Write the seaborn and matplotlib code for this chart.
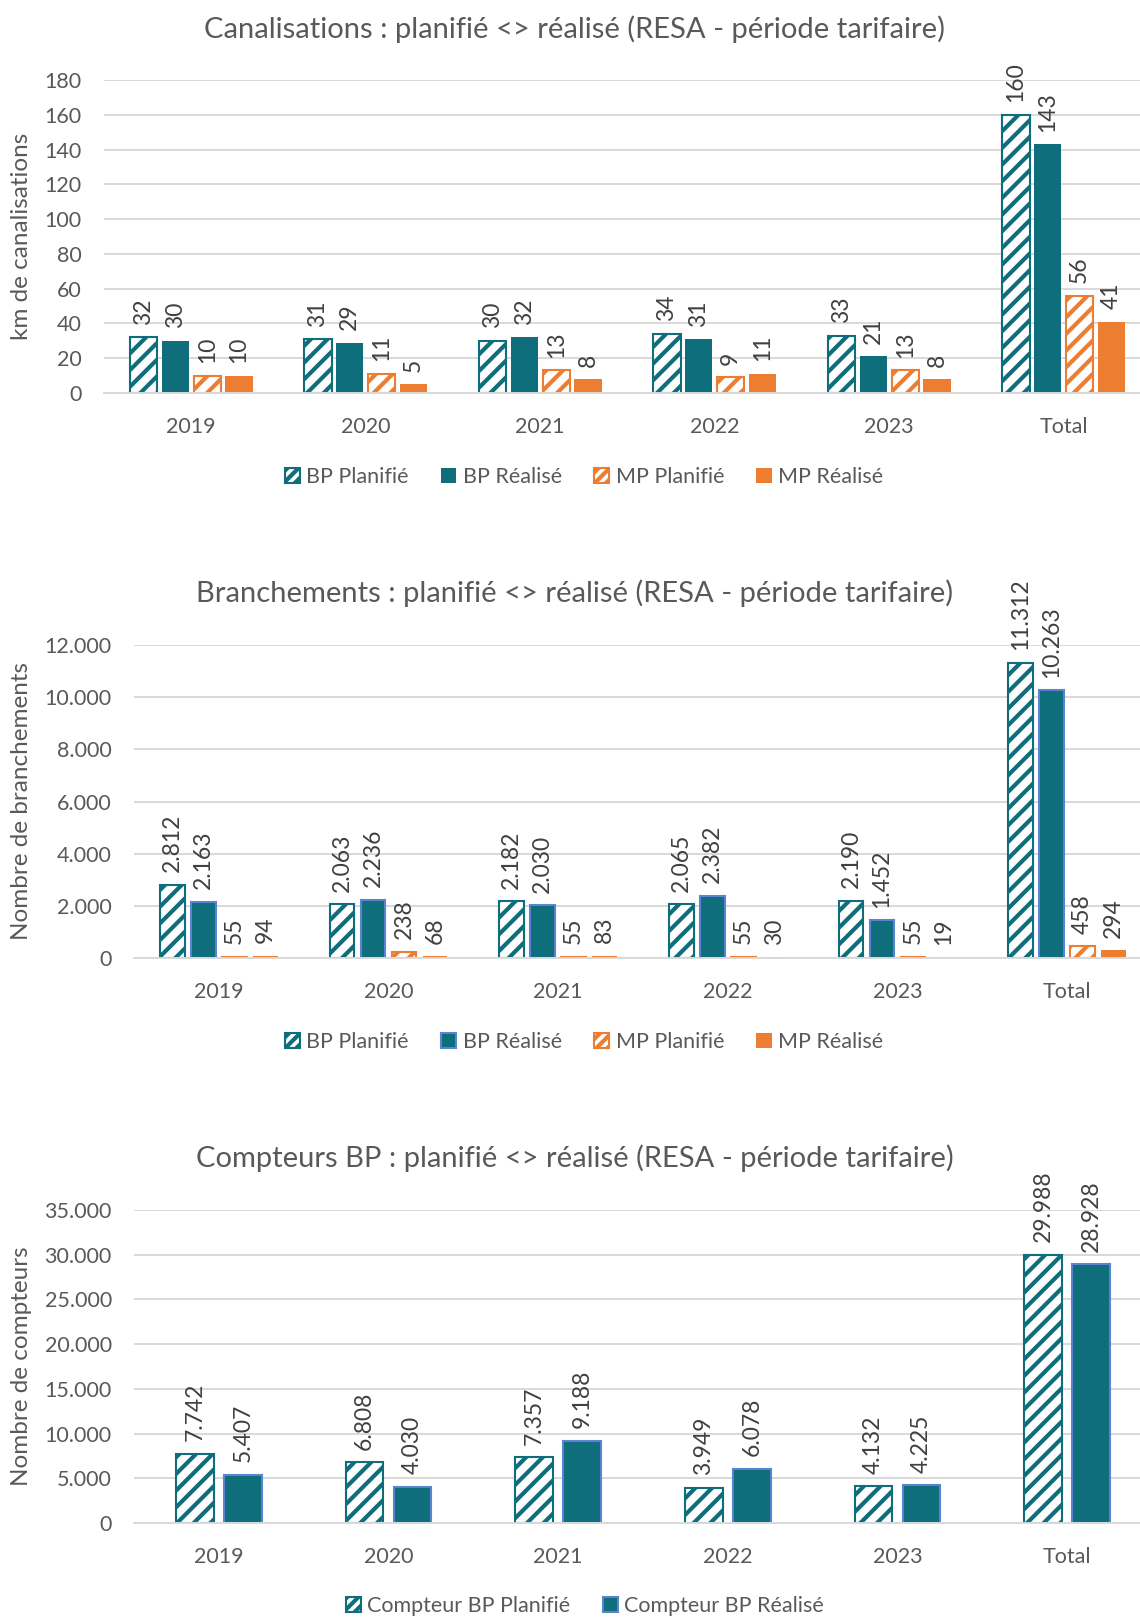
import pandas as pd
import matplotlib
matplotlib.use("Agg")
import matplotlib.pyplot as plt
import seaborn as sns
from matplotlib.patches import Patch

# données
categories = ["2019", "2020", "2021", "2022", "2023", "Total"]

cana_series = ["BP Planifié", "BP Réalisé", "MP Planifié", "MP Réalisé"]
cana_bp_plan = [32, 31, 30, 34, 33, 160]
cana_bp_real = [30, 29, 32, 31, 21, 143]
cana_mp_plan = [10, 11, 13, 9, 13, 56]
cana_mp_real = [10, 5, 8, 11, 8, 41]

bran_series = ["BP Planifié", "BP Réalisé", "MP Planifié", "MP Réalisé"]
bran_bp_plan = [2812, 2063, 2182, 2065, 2190, 11312]
bran_bp_real = [2163, 2236, 2030, 2382, 1452, 10263]
bran_mp_plan = [55, 238, 55, 55, 55, 458]
bran_mp_real = [94, 68, 83, 30, 19, 294]

comp_series = ["Compteur BP Planifié", "Compteur BP Réalisé"]
comp_plan = [7742, 6808, 7357, 3949, 4132, 29988]
comp_real = [5407, 4030, 9188, 6078, 4225, 28928]

TEAL = "#0E6E7B"
ORANGE = "#ED7D31"
EDGE_BLUE = "#5B84D0"
GRID = "#D9D9D9"
TXT = "#595959"

sns.set_style("white")
plt.rcParams["font.family"] = ["Lato", "DejaVu Sans"]
plt.rcParams["hatch.linewidth"] = 3.0

W, H = 1140, 1618
fig = plt.figure(figsize=(W / 100, H / 100), dpi=100)


def long_df(series, values):
    rows = []
    for s, vals in zip(series, values):
        for c, v in zip(categories, vals):
            rows.append({"cat": c, "serie": s, "val": v})
    return pd.DataFrame(rows)


def fmt_nb(v):
    return f"{v:,.0f}".replace(",", ".")


def draw(rect_px, series, values, styles, yticks, title, ylabel, title_y,
         leg_y, width, gap, title_x=575, leg_x=584):
    l, t, w, h = rect_px
    ax = fig.add_axes([l / W, 1 - (t + h) / H, w / W, h / H])
    df = long_df(series, values)
    pal = {s: st["color"] for s, st in zip(series, styles)}
    sns.barplot(data=df, x="cat", y="val", hue="serie", order=categories,
                hue_order=series, palette=pal, width=width, gap=gap,
                legend=False, ax=ax, saturation=1, errorbar=None)
    handles = []
    for cont, st, s in zip(ax.containers, styles, series):
        for p in cont:
            if st["hatch"]:
                p.set_facecolor("white")
                p.set_edgecolor(st["color"])
                p.set_hatch("//")
                p.set_linewidth(1.5)
            else:
                p.set_facecolor(st["color"])
                p.set_edgecolor(st.get("edge", st["color"]))
                p.set_linewidth(st.get("lw", 0))
        ax.bar_label(cont, fmt=fmt_nb, rotation=90, padding=9,
                     fontsize=16.5, color="#404040")
        if st["hatch"]:
            handles.append(Patch(facecolor="white", edgecolor=st["color"],
                                 hatch="///", linewidth=1.5, label=s))
        else:
            handles.append(Patch(facecolor=st["color"],
                                 edgecolor=st.get("edge", st["color"]),
                                 linewidth=st.get("lw", 0), label=s))
    ax.set_xlim(-0.5, 5.5)
    ax.set_ylim(yticks[0], yticks[-1])
    ax.set_yticks(yticks)
    ax.set_yticklabels([fmt_nb(v) for v in yticks])
    ax.yaxis.grid(True, color=GRID, linewidth=1.4)
    ax.set_axisbelow(True)
    for sp in ["top", "right", "left"]:
        ax.spines[sp].set_visible(False)
    ax.spines["bottom"].set_color(GRID)
    ax.spines["bottom"].set_linewidth(1.4)
    ax.tick_params(axis="both", length=0, labelsize=15.5, colors=TXT)
    ax.tick_params(axis="x", pad=17)
    ax.tick_params(axis="y", pad=16)
    ax.set_xlabel("")
    ax.set_ylabel("")
    for lab in ax.get_yticklabels() + ax.get_xticklabels():
        lab.set_color(TXT)
    fig.text(22 / W, 1 - (t + h / 2) / H, ylabel, rotation=90, ha="center",
             va="center", fontsize=17.5, color=TXT)
    fig.text(title_x / W, 1 - title_y / H, title, ha="center", va="center",
             fontsize=21, color=TXT)
    fig.legend(handles=handles, loc="center", ncol=len(series),
               bbox_to_anchor=(leg_x / W, 1 - leg_y / H), frameon=False,
               fontsize=15.5, labelcolor=TXT, handlelength=0.7,
               handleheight=0.7, handletextpad=0.3, columnspacing=1.5)
    return ax


teal_h = {"color": TEAL, "hatch": True}
orange_h = {"color": ORANGE, "hatch": True}

draw((104, 80, 1047, 313), cana_series,
     [cana_bp_plan, cana_bp_real, cana_mp_plan, cana_mp_real],
     [teal_h, {"color": TEAL, "hatch": False}, orange_h,
      {"color": ORANGE, "hatch": False}],
     list(range(0, 181, 20)),
     "Canalisations : planifié <> réalisé (RESA - période tarifaire)",
     "km de canalisations", 29, 477, 0.73, 0.15)

draw((134, 645, 1018, 313), bran_series,
     [bran_bp_plan, bran_bp_real, bran_mp_plan, bran_mp_real],
     [teal_h, {"color": TEAL, "hatch": False, "edge": EDGE_BLUE, "lw": 1.5},
      orange_h, {"color": ORANGE, "hatch": False}],
     list(range(0, 12001, 2000)),
     "Branchements : planifié <> réalisé (RESA - période tarifaire)",
     "Nombre de branchements", 593, 1042, 0.73, 0.2)

draw((134, 1210, 1018, 313), comp_series,
     [comp_plan, comp_real],
     [teal_h, {"color": TEAL, "hatch": False, "edge": EDGE_BLUE, "lw": 1.5}],
     list(range(0, 35001, 5000)),
     "Compteurs BP : planifié <> réalisé (RESA - période tarifaire)",
     "Nombre de compteurs", 1158, 1606, 0.566, 0.21, leg_x=585)

fig.savefig("out.png", dpi=100)
